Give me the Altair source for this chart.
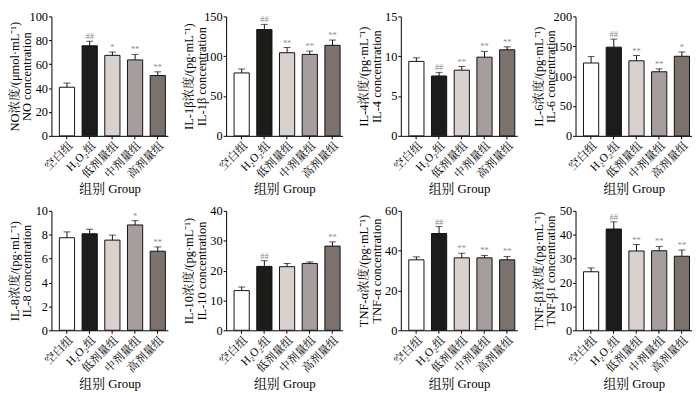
import altair as alt
import pandas as pd

groups = ["空白组", "H₂O₂组", "低剂量组", "中剂量组", "高剂量组"]
colors = ["#ffffff", "#1c1c1a", "#d9d1cd", "#a69e9c", "#7b726d"]

no_mean = [40.7, 75.4, 67.4, 63.6, 50.5]
no_err = [3.5, 3.8, 2.8, 4.6, 3.1]
no_sig = ["", "##", "*", "**", "**"]

il1b_mean = [79.0, 133.5, 104.4, 102.3, 113.7]
il1b_err = [5.0, 6.5, 6.5, 4.1, 6.6]
il1b_sig = ["", "##", "**", "**", "**"]

il4_mean = [9.35, 7.52, 8.25, 9.88, 10.81]
il4_err = [0.45, 0.45, 0.45, 0.72, 0.37]
il4_sig = ["", "##", "**", "**", "**"]

il6_mean = [122.0, 148.5, 125.7, 107.3, 133.3]
il6_err = [10.8, 13.5, 8.7, 4.9, 7.1]
il6_sig = ["", "##", "**", "**", "*"]

il8_mean = [7.75, 8.08, 7.55, 8.82, 6.62]
il8_err = [0.49, 0.38, 0.42, 0.36, 0.36]
il8_sig = ["", "", "", "*", "**"]

il10_mean = [13.3, 21.4, 21.3, 22.4, 28.2]
il10_err = [1.2, 1.9, 1.1, 0.5, 1.4]
il10_sig = ["", "##", "", "", "**"]

tnfa_mean = [35.4, 48.6, 36.4, 36.4, 35.4]
tnfa_err = [1.5, 3.5, 2.3, 1.2, 1.7]
tnfa_sig = ["", "##", "**", "**", "**"]

tnfb_mean = [24.5, 42.4, 33.2, 33.3, 31.0]
tnfb_err = [1.6, 3.0, 2.7, 1.8, 2.6]
tnfb_sig = ["", "##", "**", "**", "**"]

panels = [
    (["NO浓度/(μmol·mL⁻¹)", "NO concentration"], no_mean, no_err, no_sig, 100, [0, 20, 40, 60, 80, 100]),
    (["IL-1β浓度/(pg·mL⁻¹)", "IL-1β concentration"], il1b_mean, il1b_err, il1b_sig, 150, [0, 50, 100, 150]),
    (["IL-4浓度/(pg·mL⁻¹)", "IL-4 concentration"], il4_mean, il4_err, il4_sig, 15, [0, 5, 10, 15]),
    (["IL-6浓度/(pg·mL⁻¹)", "IL-6 concentration"], il6_mean, il6_err, il6_sig, 200, [0, 50, 100, 150, 200]),
    (["IL-8浓度/(pg·mL⁻¹)", "IL-8 concentration"], il8_mean, il8_err, il8_sig, 10, [0, 2, 4, 6, 8, 10]),
    (["IL-10浓度/(pg·mL⁻¹)", "IL-10 concentration"], il10_mean, il10_err, il10_sig, 40, [0, 10, 20, 30, 40]),
    (["TNF-α浓度/(pg·mL⁻¹)", "TNF-α concentration"], tnfa_mean, tnfa_err, tnfa_sig, 60, [0, 20, 40, 60]),
    (["TNF-β1浓度/(pg·mL⁻¹)", "TNF-β1 concentration"], tnfb_mean, tnfb_err, tnfb_sig, 50, [0, 10, 20, 30, 40, 50]),
]

FONT = "Liberation Serif, Noto Serif CJK SC, Noto Sans CJK SC, serif"


def make_panel(title, mean, err, sig, ymax, ticks):
    df = pd.DataFrame({
        "group": groups,
        "mean": mean,
        "upper": [m + e for m, e in zip(mean, err)],
        "sig": sig,
    })
    xenc = alt.X(
        "group:N", sort=groups,
        scale=alt.Scale(paddingInner=0.33, paddingOuter=0.23, align=0.76),
        axis=alt.Axis(title="组别 Group", labelAngle=-45, labelFontSize=11.5,
                      titleFontSize=13, titlePadding=3, labelPadding=1,
                      tickSize=3, domainColor="black", tickColor="black",
                      labelColor="black", titleColor="black",
                      titleFontWeight="normal", labelFont=FONT, titleFont=FONT),
    )
    yscale = alt.Scale(domain=[0, ymax], nice=False)
    yaxis = alt.Axis(title=title, values=ticks, labelFontSize=12.5, tickSize=3,
                     labelPadding=1, minExtent=17, maxExtent=17, titlePadding=1,
                     titleFontSize=12.6, titleFontWeight="normal", grid=False,
                     domainColor="black", tickColor="black", labelColor="black",
                     titleColor="black", titleLineHeight=12.8,
                     labelFont=FONT, titleFont=FONT)
    base = alt.Chart(df).encode(x=xenc)
    bars = base.mark_bar(stroke="#111", strokeWidth=1).encode(
        y=alt.Y("mean:Q", scale=yscale, axis=yaxis),
        fill=alt.Fill("group:N", scale=alt.Scale(domain=groups, range=colors), legend=None),
    )
    rule = base.mark_rule(color="#111", strokeWidth=1).encode(
        y=alt.Y("mean:Q", scale=yscale, axis=yaxis), y2="upper:Q")
    cap = base.mark_tick(color="#111", thickness=1, size=7).encode(
        y=alt.Y("upper:Q", scale=yscale, axis=yaxis))
    txt = base.mark_text(dy=-5, fontSize=8.5, color="#8a8a8a", font=FONT).encode(
        y=alt.Y("upper:Q", scale=yscale, axis=yaxis), text="sig:N")
    return alt.layer(bars, rule, cap, txt).properties(width=118, height=121)


charts = [make_panel(*p) for p in panels]
row1 = alt.hconcat(*charts[:4], spacing=15)
row2 = alt.hconcat(*charts[4:], spacing=15)
chart = alt.vconcat(row1, row2, spacing=9).properties(
    padding={"left": 0, "top": 0, "right": 0, "bottom": 0},
    background="white",
).configure_view(stroke=None)

chart.save("out.html", embed_options={"renderer": "svg", "actions": False})
